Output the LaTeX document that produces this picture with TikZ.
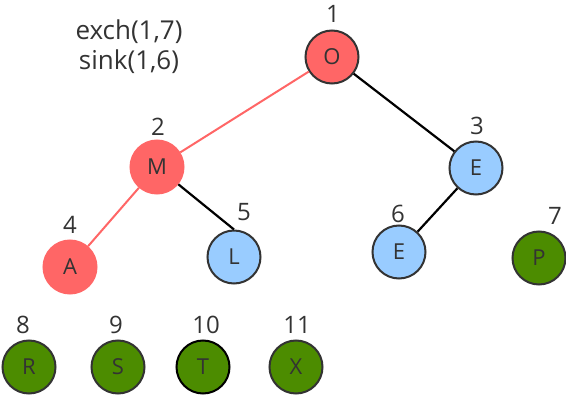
\documentclass[tikz,border=0pt]{standalone}
\usepackage{fontspec}
\setmainfont{Open Sans}
\definecolor{nred}{RGB}{255,102,102}
\definecolor{nblue}{RGB}{153,204,255}
\definecolor{ngreen}{RGB}{76,140,0}
\definecolor{ink}{RGB}{51,51,51}
\begin{document}
\begin{tikzpicture}[x=1pt,y=-1pt,
  heapnode/.style={circle,minimum size=53pt,inner sep=0pt,line width=2pt,draw=ink,
     font=\fontsize{22}{22}\selectfont,text=ink},
  rednode/.style={heapnode,fill=nred},
  rednb/.style={heapnode,fill=nred,draw=nred},
  bluenode/.style={heapnode,fill=nblue},
  greennode/.style={heapnode,fill=ngreen},
  idx/.style={font=\fontsize{24}{24}\selectfont,text=ink,inner sep=0pt},
  blackedge/.style={line width=2.2pt,draw=black},
  rededge/.style={line width=2pt,draw=nred}]
\useasboundingbox (0,0) rectangle (566,406);
\node[rednode] (n1) at (332,57) {O};
\node[rednb] (n2) at (157,167) {M};
\node[bluenode] (n3) at (476,168) {E};
\node[rednb] (n4) at (70,267) {A};
\node[bluenode] (n5) at (234,257) {L};
\node[bluenode] (n6) at (399,252) {E};
\node[greennode] (n7) at (539,258) {P};
\node[greennode] (n8) at (29,367) {R};
\node[greennode] (n9) at (118,367) {S};
\node[greennode,draw=black] (n10) at (203,367) {T};
\node[greennode] (n11) at (296,367) {X};
\node[idx] (l1) at (333,14) {1};
\node[idx] (l2) at (158,127) {2};
\node[idx] (l3) at (477,126) {3};
\node[idx] (l4) at (70,225) {4};
\node[idx] (l5) at (244,212) {5};
\node[idx] (l6) at (398,214) {6};
\node[idx] (l7) at (555,216) {7};
\node[idx] (l8) at (23,325) {8};
\node[idx] (l9) at (116,325) {9};
\node[idx] (l10) at (206,325) {10};
\node[idx] (l11) at (297,325) {11};
\node[idx,align=center,font=\fontsize{26}{30}\selectfont] (ops) at (129,47) {exch(1,7)\\sink(1,6)};
\draw[rededge] (n1) -- (n2);
\draw[blackedge] (n1) -- (n3);
\draw[rededge] (n2) -- (n4);
\draw[blackedge] (n2) -- (n5.north);
\draw[blackedge] (n3) -- (n6);
\end{tikzpicture}
\end{document}
